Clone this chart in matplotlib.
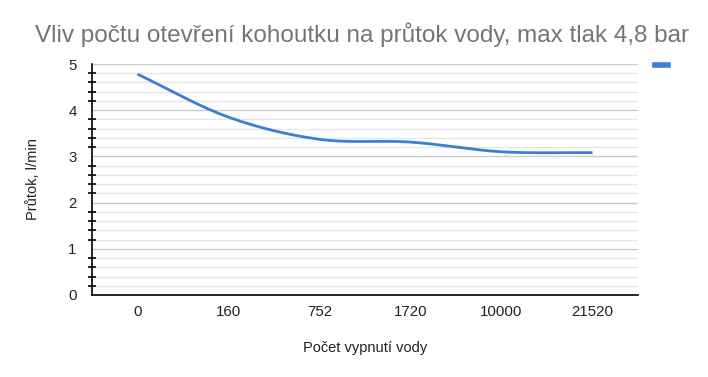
import numpy as np
import matplotlib
matplotlib.use("Agg")
import matplotlib.pyplot as plt
from matplotlib.ticker import MultipleLocator

categories = ["0", "160", "752", "1720", "10000", "21520"]
flow = [4.78, 3.85, 3.37, 3.31, 3.10, 3.08]

plt.rcParams['font.family'] = ['Liberation Sans', 'DejaVu Sans']

def smooth(xs, ys, n=40):
    xs = np.asarray(xs, float); ys = np.asarray(ys, float)
    m = len(xs)
    t = np.zeros(m)
    for i in range(m):
        if i == 0:
            t[i] = (ys[1] - ys[0]) / (xs[1] - xs[0])
        elif i == m - 1:
            t[i] = (ys[-1] - ys[-2]) / (xs[-1] - xs[-2])
        else:
            t[i] = (ys[i + 1] - ys[i - 1]) / (xs[i + 1] - xs[i - 1])
    X, Y = [], []
    for i in range(m - 1):
        h = xs[i + 1] - xs[i]
        s = np.linspace(0, 1, n, endpoint=(i == m - 2))
        h00 = 2*s**3 - 3*s**2 + 1
        h10 = s**3 - 2*s**2 + s
        h01 = -2*s**3 + 3*s**2
        h11 = s**3 - s**2
        X.extend(xs[i] + s*h)
        Y.extend(h00*ys[i] + h10*h*t[i] + h01*ys[i+1] + h11*h*t[i+1])
    return np.array(X), np.array(Y)

fig = plt.figure(figsize=(7.08, 3.77), dpi=100)
ax = fig.add_axes([92/708, 1 - 295/377, (638-92)/708, (295-64)/377])

x = np.arange(len(categories))
sx, sy = smooth(x, flow)
ax.plot(sx, sy, color='#3a7fd5', lw=2.0, solid_capstyle='butt')

ax.set_xlim(-0.5, len(categories) - 0.5)
ax.set_ylim(0, 5)
ax.set_xticks(x)
ax.set_xticklabels(categories, fontsize=10.8, color='#222222')
ax.set_yticks(range(6))
ax.set_yticklabels([str(i) for i in range(6)], fontsize=10.8, color='#222222')
ax.yaxis.set_minor_locator(MultipleLocator(0.2))
ax.tick_params(axis='x', length=0, pad=7)
ax.tick_params(axis='y', which='major', length=0, pad=11)
ax.tick_params(axis='y', which='minor', length=6, direction='inout', width=1.2, color='black')
ax.grid(axis='y', which='major', color='#cccccc', lw=1.0)
ax.grid(axis='y', which='minor', color='#e6e6e6', lw=0.9)
ax.set_axisbelow(True)
for s in ['top', 'right']:
    ax.spines[s].set_visible(False)
ax.spines['left'].set_color('black')
ax.spines['bottom'].set_color('black')
ax.spines['left'].set_linewidth(1.2)
ax.spines['bottom'].set_linewidth(1.2)

ax.set_ylabel("Průtok, l/min", fontsize=10.5, color='#222222', labelpad=20)
ax.set_xlabel("Počet vypnutí vody", fontsize=10.5, color='#222222', labelpad=16)

fig.text(0.511, 1 - 35/377, "Vliv počtu otevření kohoutku na průtok vody, max tlak 4,8 bar",
         ha='center', va='center', fontsize=17.5, color='#757575')

fig.add_artist(plt.Line2D([655/708, 668/708], [1 - 65/377, 1 - 65/377], color='#3a7fd5', lw=4))

fig.savefig("out.png", dpi=100)
